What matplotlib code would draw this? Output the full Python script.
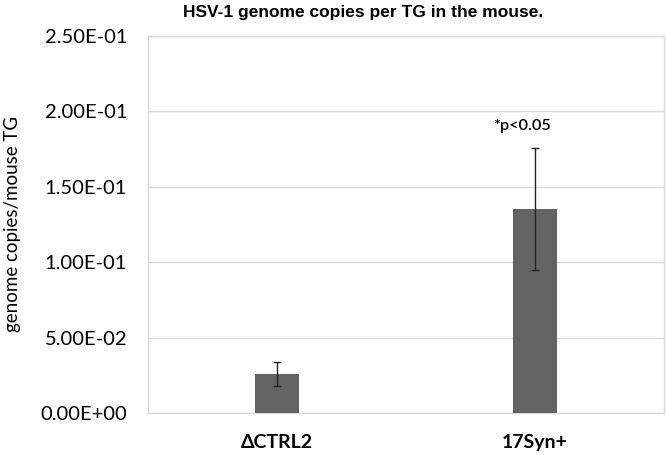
import matplotlib
matplotlib.use("Agg")
import matplotlib.pyplot as plt
from matplotlib.ticker import FuncFormatter

categories = ["ΔCTRL2", "17Syn+"]
values = [0.0258, 0.135]
errors = [0.0079, 0.0404]
yticks = [0.0, 0.05, 0.10, 0.15, 0.20, 0.25]

plt.rcParams['font.family'] = ['Lato', 'DejaVu Sans']

fig = plt.figure(figsize=(6.66, 4.55), dpi=100)
ax = fig.add_axes([0.222, 0.0923, 0.775, 0.829])

x = range(len(categories))
ax.bar(x, values, width=0.17, color="#636363", zorder=3,
       yerr=errors, error_kw=dict(ecolor="#222222", elinewidth=1, capsize=3, capthick=1, zorder=4))

ax.set_xlim(-0.5, 1.5)
ax.set_ylim(0, 0.25)
ax.set_yticks(yticks)
ax.yaxis.set_major_formatter(FuncFormatter(lambda v, p: "%.2E" % v))
ax.set_xticks(list(x))
ax.set_xticklabels(categories, fontsize=14, fontweight="bold")
ax.tick_params(axis="y", labelsize=14.5, length=0, pad=15)
ax.tick_params(axis="x", length=0, pad=15)
ax.grid(axis="y", color="#d9d9d9", linewidth=1, zorder=0)
for s in ax.spines.values():
    s.set_color("#d9d9d9")
    s.set_linewidth(1)

ax.set_ylabel("genome copies/mouse TG", fontsize=13.5, labelpad=14)
ax.text(0.95, 0.19, "*p<0.05", ha="center", va="center", fontsize=11.7, fontweight="semibold")

fig.text(363/666, 1 - 12/455, "HSV-1 genome copies per TG in the mouse.",
         ha="center", va="center", fontsize=12.5, fontweight="bold", family=["Liberation Sans", "DejaVu Sans"])

fig.savefig("out.png", dpi=100)
